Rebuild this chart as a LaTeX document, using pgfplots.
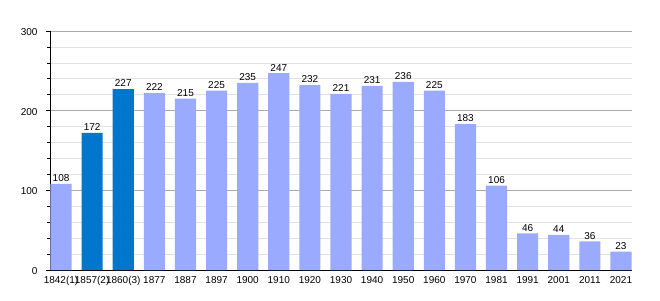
\documentclass[border=0pt]{standalone}
\usepackage{pgfplots}
\pgfplotsset{compat=1.18}
\usepackage{fontspec}
\setmainfont{Liberation Sans}
\definecolor{lightbar}{RGB}{153,170,255}
\definecolor{darkbar}{RGB}{0,119,204}
\definecolor{majgrid}{RGB}{170,170,170}
\definecolor{mingrid}{RGB}{225,225,225}
\begin{document}
\begin{tikzpicture}[x=1bp,y=1bp]
\path[use as bounding box] (0,0) rectangle (660,300);
\begin{axis}[
  at={(50bp,30bp)}, anchor=south west,
  scale only axis, width=582bp, height=239bp,
  xmin=-0.355, xmax=18.355, ymin=0, ymax=300,
  axis x line*=bottom, axis y line*=left,
  axis line style={black, line width=1pt},
  xtick={0,...,18},
  xticklabels={1842(1),1857(2),1860(3),1877,1887,1897,1900,1910,1920,1930,1940,1950,1960,1970,1981,1991,2001,2011,2021},
  x tick style={draw=none},
  ytick={0,100,200,300},
  minor ytick={20,40,60,80,120,140,160,180,220,240,260,280},
  ymajorgrids, yminorgrids,
  major grid style={majgrid, line width=0.8pt},
  minor grid style={mingrid, line width=0.6pt},
  y tick style={black, line width=0.6pt},
  major tick length=4bp, minor tick length=3bp,
  tick align=outside,
  ticklabel style={font=\fontsize{10bp}{11bp}\selectfont},
  xticklabel style={inner sep=1bp, yshift=-1bp},
  yticklabel style={xshift=-5bp, yshift=-1bp},
  /pgf/number format/assume math mode=true,
  ybar, bar width=0.68, bar shift=0pt,
  nodes near coords,
  every node near coord/.append style={font=\fontsize{10bp}{11bp}\selectfont, black, inner sep=2bp},
  clip=false,
]
\addplot[fill=lightbar, draw=none] coordinates {
(0,108) (3,222) (4,215) (5,225) (6,235) (7,247) (8,232) (9,221) (10,231) (11,236) (12,225) (13,183) (14,106) (15,46) (16,44) (17,36) (18,23)};
\addplot[fill=darkbar, draw=none] coordinates {(1,172) (2,227)};
\end{axis}
\end{tikzpicture}
\end{document}
